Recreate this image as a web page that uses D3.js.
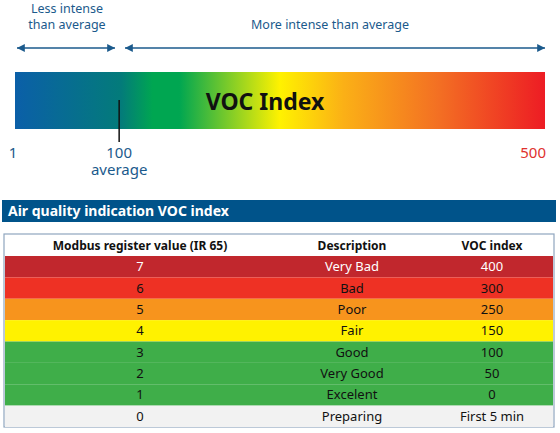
<!DOCTYPE html><html><head><meta charset="utf-8">
<script src="https://cdn.jsdelivr.net/npm/d3@7"></script>
<style>body{margin:0;background:#fff}text{font-family:"Noto Sans",sans-serif}</style></head><body>
<svg id="c" width="560" height="433"></svg>
<script>
const scaleTicks=[1,100,500];
const gradStops=[[0,"#0b5fa8"],[0.2,"#037b7a"],[0.26,"#00a651"],[0.31,"#00a651"],[0.5,"#fff200"],[0.62,"#fbb016"],[0.8,"#f36f23"],[1,"#ed1c24"]];
const registers=["7","6","5","4","3","2","1","0"];
const descriptions=["Very Bad","Bad","Poor","Fair","Good","Very Good","Excelent","Preparing"];
const vocValues=["400","300","250","150","100","50","0","First 5 min"];
const rowColors=["#c1272d","#ee3124","#f7941d","#fff200","#3fae49","#3fae49","#3fae49","#f2f2f2"];
const headers=["Modbus register value (IR 65)","Description","VOC index"];

const svg=d3.select("#c");
const blue="#1b5a8c";
const x=d3.scaleLinear().domain([1,500]).range([15,545]);
const defs=svg.append("defs");
const g=defs.append("linearGradient").attr("id","gr");
g.selectAll("stop").data(gradStops).join("stop").attr("offset",d=>d[0]).attr("stop-color",d=>d[1]);
svg.append("rect").attr("x",x(1)).attr("y",72).attr("width",x(500)-x(1)).attr("height",57).attr("fill","url(#gr)");
svg.append("text").attr("x",265).attr("y",110).attr("text-anchor","middle").attr("font-size",23).attr("font-weight","bold").attr("fill","#111").text("VOC Index");
svg.append("line").attr("x1",x(100)-1).attr("x2",x(100)-1).attr("y1",100).attr("y2",142).attr("stroke","#111").attr("stroke-width",1.5);
svg.selectAll(".tk").data(scaleTicks).join("text").attr("x",d=>d===1?13:d===500?546:x(d)-1).attr("y",158)
 .attr("text-anchor",d=>d===500?"end":"middle")
 .attr("font-size",15).attr("fill",d=>d===500?"#e0312d":blue).text(d=>d);
svg.append("text").attr("x",x(100)-1).attr("y",175).attr("text-anchor","middle").attr("font-size",15).attr("fill",blue).text("average");
defs.append("marker").attr("id","ah").attr("viewBox","0 0 10 10").attr("refX",10).attr("refY",5).attr("markerWidth",9).attr("markerHeight",6).attr("orient","auto-start-reverse")
 .append("path").attr("d","M0,0L10,5L0,10Z").attr("fill",blue);
[[17,115],[125,545]].forEach(([a,b])=>svg.append("line").attr("x1",a).attr("x2",b).attr("y1",48).attr("y2",48).attr("stroke",blue).attr("stroke-width",1.3).attr("marker-start","url(#ah)").attr("marker-end","url(#ah)"));
svg.append("text").attr("x",67).attr("y",13).attr("text-anchor","middle").attr("font-size",12.5).attr("fill",blue).text("Less intense");
svg.append("text").attr("x",67).attr("y",29).attr("text-anchor","middle").attr("font-size",12.5).attr("fill",blue).text("than average");
svg.append("text").attr("x",330).attr("y",29).attr("text-anchor","middle").attr("font-size",12.5).attr("fill",blue).text("More intense than average");
svg.append("rect").attr("x",2).attr("y",200).attr("width",554).attr("height",22).attr("fill","#00538a");
svg.append("text").attr("x",8).attr("y",216).attr("font-size",14).attr("font-weight","bold").attr("fill","#fff").text("Air quality indication VOC index");
const y=d3.scaleBand().domain(d3.range(8)).range([256,427]);
const cx=[140,352,492];
svg.append("rect").attr("x",4).attr("y",234).attr("width",550).attr("height",193).attr("fill","#fff").attr("stroke","#8fa6bf").attr("stroke-width",1.2);
svg.selectAll(".hd").data(headers).join("text").attr("x",(d,i)=>cx[i]).attr("y",250).attr("text-anchor","middle").attr("font-size",12).attr("font-weight","bold").attr("fill","#111").text(d=>d);
const rows=svg.selectAll(".row").data(d3.range(8)).join("g");
rows.append("rect").attr("x",5).attr("y",i=>y(i)).attr("width",548).attr("height",y.bandwidth()).attr("fill",i=>rowColors[i]);
[registers,descriptions,vocValues].forEach((arr,c)=>rows.append("text").attr("x",cx[c]).attr("y",i=>y(i)+y.bandwidth()/2+4.5)
 .attr("text-anchor","middle").attr("font-size",13).attr("fill",i=>i===0?"#fff":"#111").text(i=>arr[i]));
</script></body></html>
